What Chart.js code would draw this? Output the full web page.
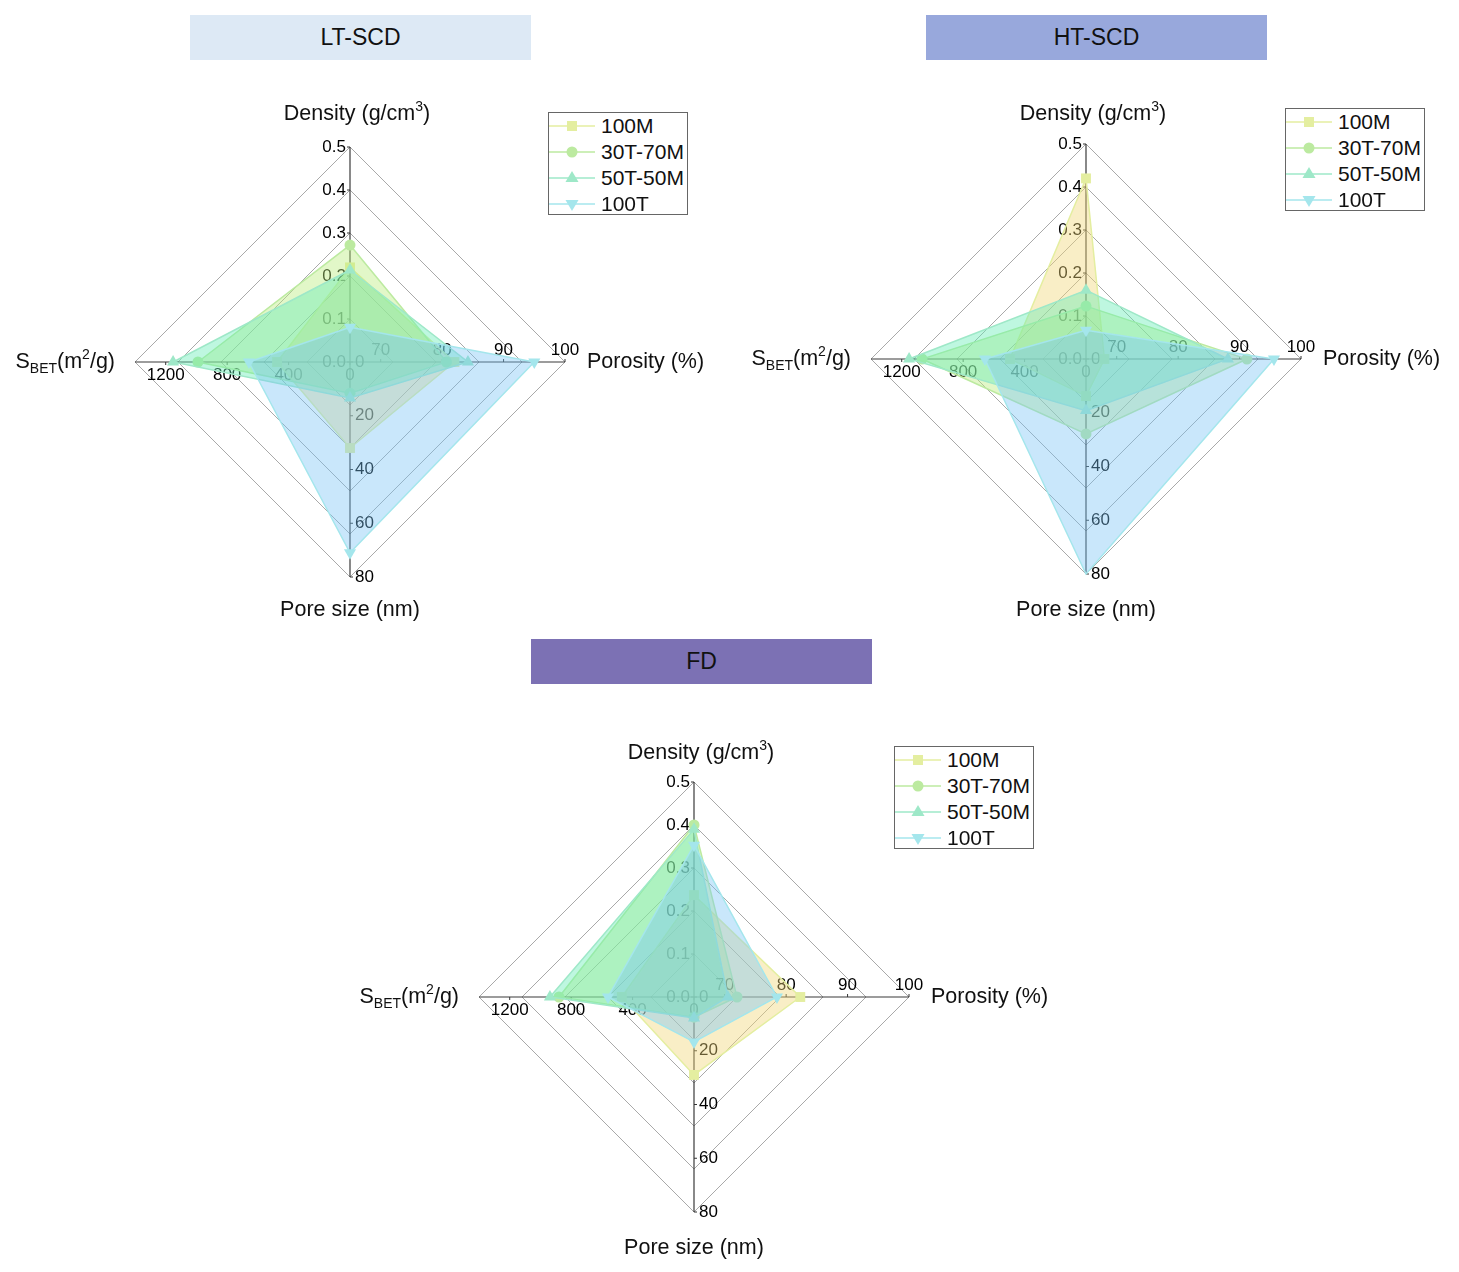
<!DOCTYPE html>
<html><head><meta charset="utf-8">
<script src="https://cdn.jsdelivr.net/npm/chart.js@4.4.1/dist/chart.umd.min.js"></script>
<style>
body{margin:0;width:1459px;height:1272px;background:#fff;position:relative;font-family:'Liberation Sans',Arial,sans-serif;overflow:hidden}
.title{position:absolute;height:45px;width:341px;line-height:45px;text-align:center;font-size:23px;color:#111}
canvas{position:absolute}
.legend{position:absolute;border:1px solid #666;background:#fff;box-sizing:border-box;width:140px;height:103px}
.legend .row{height:26px;display:flex;align-items:center;font-size:21px;color:#111;white-space:nowrap}
.legend svg{margin-right:6px;flex:none}
</style></head><body>
<div class="title" style="left:190px;top:15px;background:#dde9f5">LT-SCD</div>
<div class="title" style="left:926px;top:15px;background:#98a8dc">HT-SCD</div>
<div class="title" style="left:531px;top:639px;background:#7c71b4">FD</div>
<canvas id="c1" width="720" height="580" style="left:0px;top:70px"></canvas>
<canvas id="c2" width="729" height="580" style="left:730px;top:70px"></canvas>
<canvas id="c3" width="740" height="572" style="left:340px;top:700px"></canvas>
<div class="legend" id="lg1" style="left:548px;top:112px"></div>
<div class="legend" id="lg2" style="left:1285px;top:108px"></div>
<div class="legend" id="lg3" style="left:894px;top:746px"></div>
<script>
// ---- data ----
const seriesNames = ['100M', '30T-70M', '50T-50M', '100T'];
const axisNames = ['Density', 'Porosity', 'Pore size', 'SBET'];
const axisMin = [0, 65, 0, 0];
const axisMax = [0.5, 100, 80, 1400];
const densityTicks = ['0.0', '0.1', '0.2', '0.3', '0.4', '0.5'];
const porosityTicks = [70, 80, 90, 100];
const poreTicks = [0, 20, 40, 60, 80];
const sbetTicks = [0, 400, 800, 1200];

// values per series: [density, porosity, pore size, SBET]
const lt100M   = [0.22, 82, 32, 475];
const lt30T70M = [0.272, 80.7, 11.6, 990];
const lt50T50M = [0.214, 84.2, 13.4, 1152];
const lt100T   = [0.081, 95, 71, 658];

const ht100M   = [0.42, 68, 13.8, 495];
const ht30T70M = [0.123, 91.2, 27.9, 1068];
const ht50T50M = [0.16, 88.1, 19.2, 1152];
const ht100T   = [0.067, 95.6, 80, 658];

const fd100M   = [0.237, 82.3, 29, 470];
const fd30T70M = [0.40, 72, 7.5, 879];
const fd50T50M = [0.39, 70.5, 7.8, 938];
const fd100T   = [0.353, 78.5, 16.7, 560];

// ---- styles ----
const markerColors = ['rgb(228,238,160)', 'rgb(188,234,160)', 'rgb(158,232,200)', 'rgb(164,230,236)'];
const fillColors = ['rgba(240,214,120,0.42)', 'rgba(185,235,125,0.42)', 'rgba(100,235,180,0.42)', 'rgba(120,195,245,0.40)'];
const pointStyles = ['rect', 'circle', 'triangle', 'triangle'];
const pointRot = [0, 0, 0, 180];
const pointRad = [7, 5.5, 7, 7];
const FONT = "'Liberation Sans', Arial, sans-serif";
const TITLE_PX = 21.5, SMALL_PX = 14, TICK_PX = 17;

function norm(vals) {
  return vals.map((v, i) => (v - axisMin[i]) / (axisMax[i] - axisMin[i]));
}

function drawRich(ctx, segs, x, y, align) {
  let w = 0;
  segs.forEach(s => {
    ctx.font = (s.sup || s.sub ? SMALL_PX : TITLE_PX) + 'px ' + FONT;
    s.w = ctx.measureText(s.t).width; w += s.w;
  });
  let sx = align === 'center' ? x - w / 2 : align === 'right' ? x - w : x;
  ctx.textAlign = 'left';
  ctx.textBaseline = 'alphabetic';
  ctx.fillStyle = '#111';
  segs.forEach(s => {
    ctx.font = (s.sup || s.sub ? SMALL_PX : TITLE_PX) + 'px ' + FONT;
    const dy = s.sup ? -9 : s.sub ? 5 : 0;
    ctx.fillText(s.t, sx, y + dy);
    sx += s.w;
  });
}

const axisTextPlugin = {
  id: 'axisText',
  beforeDatasetsDraw(chart) {
    const s = chart.scales.r, ctx = chart.ctx;
    const cx = s.xCenter, cy = s.yCenter, R = s.drawingArea;
    ctx.save();
    ctx.font = TICK_PX + 'px ' + FONT;
    ctx.fillStyle = '#000';
    ctx.strokeStyle = '#333';
    ctx.lineWidth = 1;
    ctx.textAlign = 'right'; ctx.textBaseline = 'middle';
    densityTicks.forEach(t => {
      const y = cy - parseFloat(t) / 0.5 * R;
      ctx.fillText(t, cx - 4, y);
      ctx.beginPath(); ctx.moveTo(cx - 3, y); ctx.lineTo(cx, y); ctx.stroke();
    });
    ctx.textAlign = 'left';
    poreTicks.forEach(v => {
      const y = cy + v / 80 * R;
      ctx.fillText(String(v), cx + 5, y);
      ctx.beginPath(); ctx.moveTo(cx, y); ctx.lineTo(cx + 3, y); ctx.stroke();
    });
    ctx.textAlign = 'center'; ctx.textBaseline = 'top';
    sbetTicks.forEach(v => {
      const x = cx - v / 1400 * R;
      ctx.fillText(String(v), x, cy + 5);
      ctx.beginPath(); ctx.moveTo(x, cy); ctx.lineTo(x, cy + 3); ctx.stroke();
    });
    ctx.textBaseline = 'bottom';
    porosityTicks.forEach(v => {
      const x = cx + (v - 65) / 35 * R;
      ctx.fillText(String(v), x, cy - 3);
      ctx.beginPath(); ctx.moveTo(x, cy); ctx.lineTo(x, cy - 3); ctx.stroke();
    });
    ctx.restore();
  },
  afterDraw(chart) {
    const s = chart.scales.r, ctx = chart.ctx;
    const cx = s.xCenter, cy = s.yCenter;
    const o = chart.options.plugins.axisText || {};
    ctx.save();
    drawRich(ctx, [{t: 'Density (g/cm'}, {t: '3', sup: true}, {t: ')'}], cx + 7, cy + (o.topDy || -242), 'center');
    drawRich(ctx, [{t: 'Porosity (%)'}], cx + 237, cy + 6, 'left');
    drawRich(ctx, [{t: 'Pore size (nm)'}], cx, cy + (o.bottomDy || 254), 'center');
    drawRich(ctx, [{t: 'S'}, {t: 'BET', sub: true}, {t: '(m'}, {t: '2', sup: true}, {t: '/g)'}], cx - 235, cy + 6, 'right');
    ctx.restore();
  }
};

function makeChart(id, seriesVals, padding, titleOffsets) {
  const datasets = seriesVals.map((vals, i) => ({
    label: seriesNames[i],
    data: norm(vals),
    order: seriesVals.length - i,
    fill: 'origin',
    backgroundColor: fillColors[i],
    borderColor: markerColors[i],
    borderWidth: 1.5,
    pointStyle: pointStyles[i],
    rotation: pointRot[i],
    pointRotation: pointRot[i],
    pointRadius: c => (c.raw >= 0.999 ? 0 : pointRad[i]),
    pointBackgroundColor: markerColors[i],
    pointBorderColor: markerColors[i],
    pointBorderWidth: 0
  }));
  new Chart(document.getElementById(id), {
    type: 'radar',
    data: { labels: axisNames, datasets },
    options: {
      responsive: false,
      animation: false,
      layout: { padding },
      elements: { line: { tension: 0 } },
      plugins: { legend: { display: false }, tooltip: { enabled: false }, axisText: titleOffsets },
      scales: {
        r: {
          min: 0, max: 1,
          ticks: { display: false, stepSize: 0.2 },
          grid: { color: '#a9a9a9', lineWidth: 1 },
          angleLines: { color: '#3a3a3a', lineWidth: 1.2 },
          pointLabels: { display: false }
        }
      }
    },
    plugins: [axisTextPlugin]
  });
}

makeChart('c1', [lt100M, lt30T70M, lt50T50M, lt100T], {left: 135, right: 155, top: 77, bottom: 73}, {topDy: -242, bottomDy: 254});
makeChart('c2', [ht100M, ht30T70M, ht50T50M, ht100T], {left: 141, right: 158, top: 74, bottom: 76}, {topDy: -239, bottomDy: 257});
makeChart('c3', [fd100M, fd30T70M, fd50T50M, fd100T], {left: 139, right: 171, top: 82, bottom: 60}, {topDy: -238, bottomDy: 257});

function markerSvg(i) {
  const c = markerColors[i];
  let m;
  if (i === 0) m = `<rect x="18" y="5" width="10" height="10" fill="${c}"/>`;
  else if (i === 1) m = `<circle cx="23" cy="10" r="5.5" fill="${c}"/>`;
  else if (i === 2) m = `<polygon points="23,3 29.5,14 16.5,14" fill="${c}"/>`;
  else m = `<polygon points="23,17 29.5,6 16.5,6" fill="${c}"/>`;
  return `<svg width="46" height="20"><line x1="0" y1="10" x2="46" y2="10" stroke="${c}" stroke-width="1.5"/>${m}</svg>`;
}
['lg1', 'lg2', 'lg3'].forEach(id => {
  document.getElementById(id).innerHTML = seriesNames.map((n, i) =>
    `<div class="row">${markerSvg(i)}<span>${n}</span></div>`).join('');
});
</script>
</body></html>
